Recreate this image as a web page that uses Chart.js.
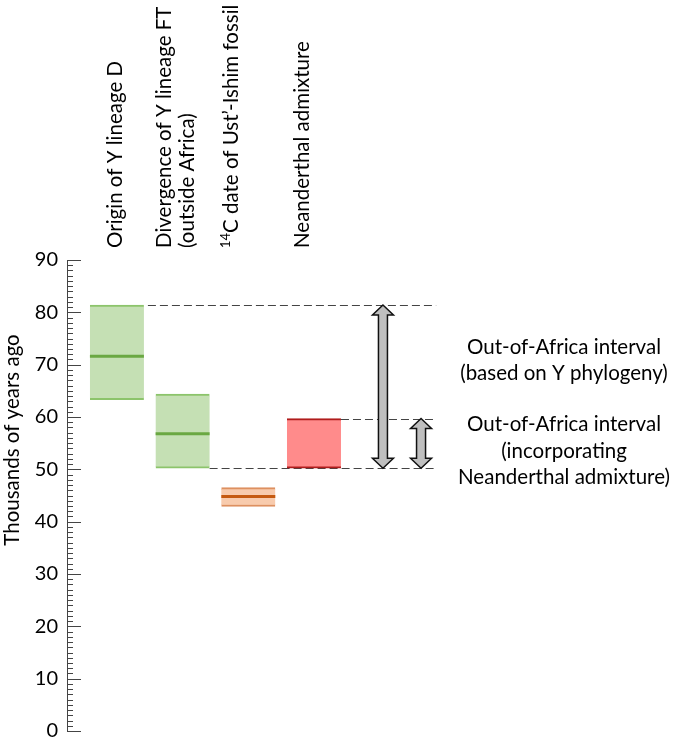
<!DOCTYPE html>
<html>
<head>
<meta charset="utf-8">
<script src="https://cdn.jsdelivr.net/npm/chart.js@4"></script>
<style>
  html, body { margin: 0; padding: 0; background: #fff; }
  #wrap { width: 677px; height: 752px; }
</style>
</head>
<body>
<div id="wrap"><canvas id="chart" width="677" height="752"></canvas></div>
<script>
// values (thousands of years ago)
const categories = ['Origin of Y lineage D', 'Divergence of Y lineage FT', '14C date of Ust’-Ishim fossil', 'Neanderthal admixture']
const lowValues = [63.3, 50.2, 42.9, 50.2]
const highValues = [81.4, 64.4, 46.5, 59.7]
const midValues = [71.6, 56.8, 44.8, null]
const yTickValues = [0, 10, 20, 30, 40, 50, 60, 70, 80, 90]

const fills = ['#c5e0b4', '#c5e0b4', '#f8cbad', '#ff8b8b']
const edges = ['#8cc46b', '#8cc46b', '#dd9060', '#b01c1c']
const midColors = ['#6aa842', '#6aa842', '#c55a11', null]

const FONT = 'Lato, Carlito, "Open Sans", sans-serif'

function drawArrow(ctx, x, yTop, yBot) {
  var shaft = 4.5, head = 10.5, headLen = 10
  ctx.beginPath()
  ctx.moveTo(x, yTop)
  ctx.lineTo(x + head, yTop + headLen)
  ctx.lineTo(x + shaft, yTop + headLen)
  ctx.lineTo(x + shaft, yBot - headLen)
  ctx.lineTo(x + head, yBot - headLen)
  ctx.lineTo(x, yBot)
  ctx.lineTo(x - head, yBot - headLen)
  ctx.lineTo(x - shaft, yBot - headLen)
  ctx.lineTo(x - shaft, yTop + headLen)
  ctx.lineTo(x - head, yTop + headLen)
  ctx.closePath()
  ctx.fillStyle = '#bfbfbf'
  ctx.fill()
  ctx.lineWidth = 1.5
  ctx.strokeStyle = '#111'
  ctx.stroke()
}

function vText(ctx, text, x, y) {
  ctx.save()
  ctx.translate(x, y)
  ctx.rotate(-Math.PI / 2)
  ctx.fillText(text, 0, 0)
  ctx.restore()
}

const annotations = {
  id: 'annotations',
  beforeDatasetsDraw(chart) {
    var ctx = chart.ctx, y = chart.scales.y, x = chart.scales.x
    var bars = chart.getDatasetMeta(0).data
    var endX = x.getPixelForValue(5.86)
    ctx.save()
    ctx.strokeStyle = '#444'
    ctx.lineWidth = 1
    ctx.setLineDash([8, 4])
    var lines = [
      [bars[0].x + bars[0].width / 2 + 4, highValues[0]],
      [bars[3].x + bars[3].width / 2, highValues[3]],
      [bars[1].x + bars[1].width / 2, lowValues[1]]
    ]
    lines.forEach(function (l) {
      var py = Math.round(y.getPixelForValue(l[1])) + 0.5
      ctx.beginPath()
      ctx.moveTo(l[0], py)
      ctx.lineTo(endX, py)
      ctx.stroke()
    })
    ctx.restore()
  },
  afterDatasetsDraw(chart) {
    var ctx = chart.ctx, y = chart.scales.y, x = chart.scales.x
    var bars = chart.getDatasetMeta(0).data
    // central estimate lines
    ctx.save()
    ctx.lineWidth = 3
    midValues.forEach(function (v, i) {
      if (v == null) return
      var b = bars[i], py = y.getPixelForValue(v)
      ctx.strokeStyle = midColors[i]
      ctx.beginPath()
      ctx.moveTo(b.x - b.width / 2, py)
      ctx.lineTo(b.x + b.width / 2, py)
      ctx.stroke()
    })
    // out-of-africa arrows
    drawArrow(ctx, x.getPixelForValue(5.05), y.getPixelForValue(highValues[0]), y.getPixelForValue(lowValues[1]))
    drawArrow(ctx, x.getPixelForValue(5.63), y.getPixelForValue(highValues[3]), y.getPixelForValue(lowValues[3]))
    ctx.restore()
  },
  afterDraw(chart) {
    var ctx = chart.ctx, y = chart.scales.y
    var left = chart.chartArea.left
    ctx.save()
    // minor + major ticks on the inside of the axis
    ctx.strokeStyle = '#444'
    ctx.lineWidth = 1
    for (var v = 0; v <= 90; v++) {
      var py = Math.round(y.getPixelForValue(v)) + 0.5
      ctx.beginPath()
      ctx.moveTo(left, py)
      ctx.lineTo(left + (v % 10 === 0 ? 14 : 6), py)
      ctx.stroke()
    }

    ctx.fillStyle = '#000'
    ctx.textBaseline = 'middle'
    ctx.font = '20.5px ' + FONT
    ctx.textAlign = 'center'
    vText(ctx, 'Thousands of years ago', 12, 440)

    // column labels, written bottom to top
    ctx.textAlign = 'left'
    ctx.font = '20.5px ' + FONT
    var base = 248
    vText(ctx, categories[0], 115, base)
    vText(ctx, categories[1], 164, base)
    vText(ctx, '(outside Africa)', 187, base)
    ctx.font = '13px ' + FONT
    var supW = ctx.measureText('14').width
    vText(ctx, '14', 226, base)
    ctx.font = '20.5px ' + FONT
    vText(ctx, categories[2].slice(2), 231, base - supW)
    vText(ctx, categories[3], 302, base)

    // interval captions
    ctx.textAlign = 'center'
    ctx.font = '20.5px ' + FONT
    var cx = 564
    ctx.fillText('Out-of-Africa interval', cx, 347)
    ctx.fillText('(based on Y phylogeny)', cx, 373)
    ctx.fillText('Out-of-Africa interval', cx, 424)
    ctx.fillText('(incorporating', cx, 451)
    ctx.fillText('Neanderthal admixture)', cx, 477)
    ctx.restore()
  }
}

const ranges = lowValues.map(function (lo, i) {
  return { x: i + 1, y: [lo, highValues[i]] }
})

new Chart(document.getElementById('chart'), {
  type: 'bar',
  data: {
    datasets: [{
      data: ranges,
      backgroundColor: fills,
      borderColor: edges,
      borderWidth: { top: 2, bottom: 2, left: 0, right: 0 },
      borderSkipped: false,
      barThickness: 54
    }]
  },
  plugins: [annotations],
  options: {
    responsive: false,
    animation: false,
    devicePixelRatio: 1,
    layout: { padding: { top: 260, bottom: 13, left: 0, right: 7 } },
    plugins: { legend: { display: false }, tooltip: { enabled: false } },
    scales: {
      x: { type: 'linear', min: 0.24, max: 9.42, offset: false, display: false },
      y: {
        min: yTickValues[0],
        max: yTickValues[yTickValues.length - 1],
        afterFit: function (s) { s.width = 67 },
        afterBuildTicks: function (s) { s.ticks = yTickValues.map(function (v) { return { value: v } }) },
        grid: { display: false, drawTicks: false },
        border: { display: true, color: '#444', width: 1 },
        ticks: { padding: 9, color: '#000', font: { family: FONT, size: 20 } }
      }
    }
  }
})
</script>
</body>
</html>
